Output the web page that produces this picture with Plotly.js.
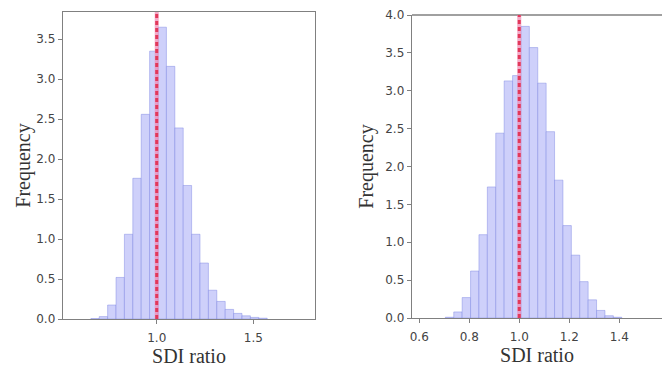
<!DOCTYPE html>
<html>
<head>
<meta charset="utf-8">
<script src="https://cdn.plot.ly/plotly-3.0.1.min.js"></script>
<style>html,body{margin:0;padding:0;background:#fff;}#chart{width:662px;height:369px;}</style>
</head>
<body>
<div id="chart"></div>
<script>
// ---- data (density histograms of SDI ratio) ----
const leftBinStart = 0.6590;
const leftBinWidth = 0.04346;
const leftDensity = [0.005, 0.03, 0.175, 0.52, 1.06, 1.76, 2.56, 3.35, 3.65, 3.16, 2.39, 1.67, 1.06, 0.70, 0.36, 0.22, 0.12, 0.07, 0.04, 0.02, 0.01];

const rightBinStart = 0.7044;
const rightBinWidth = 0.0336;
const rightDensity = [0.01, 0.08, 0.27, 0.62, 1.10, 1.73, 2.44, 3.13, 3.20, 3.85, 3.57, 3.10, 2.46, 1.82, 1.22, 0.83, 0.48, 0.24, 0.10, 0.03, 0.01];

const refValue = 1.0;
const xTitle = 'SDI ratio';
const yTitle = 'Frequency';
const leftXTicks = [1.0, 1.5];
const leftYTicks = [0, 0.5, 1.0, 1.5, 2.0, 2.5, 3.0, 3.5];
const rightXTicks = [0.6, 0.8, 1.0, 1.2, 1.4];
const rightYTicks = [0, 0.5, 1.0, 1.5, 2.0, 2.5, 3.0, 3.5, 4.0];

function edges(start, w, n) { const a = []; for (let i = 0; i < n; i++) a.push(start + i * w); return a; }

const barFill = 'rgb(206,208,250)';
const barLine = 'rgba(120,128,225,0.55)';

const traces = [
  {type: 'bar', x: edges(leftBinStart, leftBinWidth, leftDensity.length), y: leftDensity,
   width: leftBinWidth, offset: 0, xaxis: 'x', yaxis: 'y',
   marker: {color: barFill, line: {color: barLine, width: 0.8}}, hoverinfo: 'skip'},
  {type: 'bar', x: edges(rightBinStart, rightBinWidth, rightDensity.length), y: rightDensity,
   width: rightBinWidth, offset: 0, xaxis: 'x2', yaxis: 'y2',
   marker: {color: barFill, line: {color: barLine, width: 0.8}}, hoverinfo: 'skip'}
];

const tickFont = {family: 'DejaVu Sans', size: 12, color: '#444'};
const titleFont = {family: 'Liberation Serif', size: 20, color: '#333'};
const spine = '#808080';

function xa(domain, range, ticks, mirror) {
  return {domain: domain, range: range, tickvals: ticks, ticktext: ticks.map(v => v.toFixed(1)),
    showgrid: false, zeroline: false, showline: true, linecolor: spine, linewidth: 1.3, mirror: mirror,
    ticks: 'outside', ticklen: 4, tickcolor: spine, tickwidth: 1, tickfont: tickFont, ticklabelstandoff: 3,
    title: {text: xTitle, font: titleFont, standoff: 2}};
}
function ya(domain, range, ticks, anchor, mirror, standoff) {
  return {domain: domain, range: range, tickvals: ticks, ticktext: ticks.map(v => v.toFixed(1)), anchor: anchor,
    showgrid: false, zeroline: false, showline: true, linecolor: spine, linewidth: 1.3, mirror: mirror,
    ticks: 'outside', ticklen: 4, tickcolor: spine, tickwidth: 1, tickfont: tickFont,
    title: {text: yTitle, font: titleFont, standoff: standoff}};
}

const layout = {
  width: 662, height: 369,
  margin: {l: 0, r: 0, t: 0, b: 0},
  paper_bgcolor: '#fff', plot_bgcolor: '#fff',
  showlegend: false, bargap: 0,
  xaxis: xa([63/662, 315/662], [0.515, 1.819], leftXTicks, true),
  yaxis: ya([50/369, 357/369], [0, 3.84], leftYTicks, 'x', true, 0),
  xaxis2: Object.assign(xa([412/662, 1], [0.571, 1.571], rightXTicks, false), {anchor: 'y2'}),
  yaxis2: ya([51/369, 354/369], [0, 4.0], rightYTicks, 'x2', false, 6),
  shapes: [
    {type: 'line', xref: 'x2', yref: 'y2 domain', x0: 0.571, x1: 1.571, y0: 1, y1: 1, line: {color: spine, width: 1.3}},
    {type: 'line', xref: 'x', yref: 'y domain', x0: refValue, x1: refValue, y0: 0, y1: 1, line: {color: 'rgba(240,140,180,0.75)', width: 4}},
    {type: 'line', xref: 'x', yref: 'y domain', x0: refValue, x1: refValue, y0: 0, y1: 1, line: {color: '#e2385a', width: 3, dash: '4px,3px'}},
    {type: 'line', xref: 'x2', yref: 'y2 domain', x0: refValue, x1: refValue, y0: 0, y1: 1, line: {color: 'rgba(240,140,180,0.75)', width: 4}},
    {type: 'line', xref: 'x2', yref: 'y2 domain', x0: refValue, x1: refValue, y0: 0, y1: 1, line: {color: '#e2385a', width: 3, dash: '4px,3px'}}
  ]
};

Plotly.newPlot('chart', traces, layout, {staticPlot: true, displayModeBar: false});
</script>
</body>
</html>
